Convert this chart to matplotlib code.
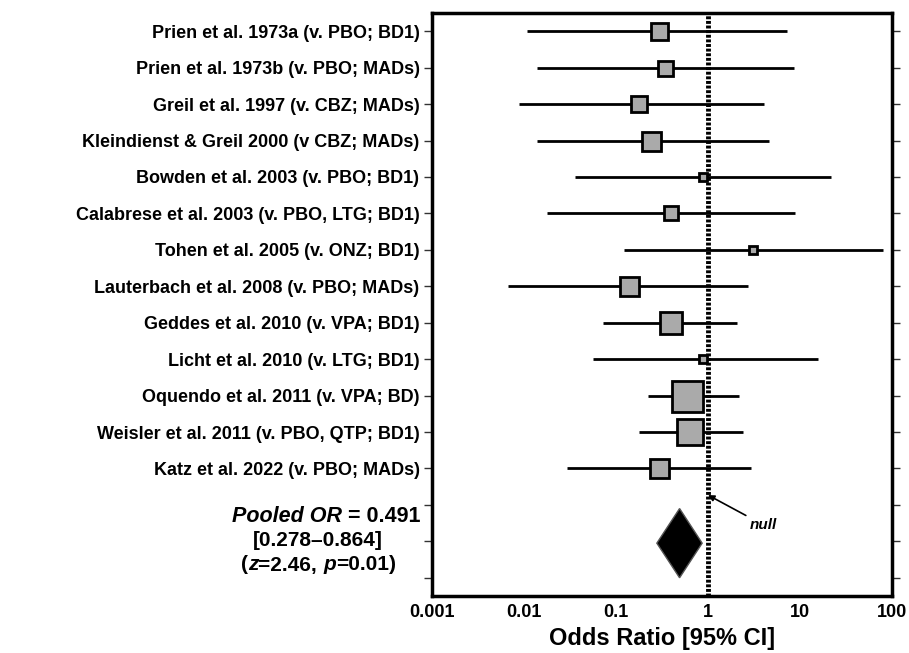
import numpy as np
import matplotlib.pyplot as plt
from matplotlib.patches import Polygon

plt.rcParams['font.family'] = ['Liberation Sans', 'DejaVu Sans']
plt.rcParams['font.weight'] = 'bold'

# study data (odds ratio, 95% CI, marker size in px)
studies = ["Prien et al. 1973a (v. PBO; BD1)",
           "Prien et al. 1973b (v. PBO; MADs)",
           "Greil et al. 1997 (v. CBZ; MADs)",
           "Kleindienst & Greil 2000 (v CBZ; MADs)",
           "Bowden et al. 2003 (v. PBO; BD1)",
           "Calabrese et al. 2003 (v. PBO, LTG; BD1)",
           "Tohen et al. 2005 (v. ONZ; BD1)",
           "Lauterbach et al. 2008 (v. PBO; MADs)",
           "Geddes et al. 2010 (v. VPA; BD1)",
           "Licht et al. 2010 (v. LTG; BD1)",
           "Oquendo et al. 2011 (v. VPA; BD)",
           "Weisler et al. 2011 (v. PBO, QTP; BD1)",
           "Katz et al. 2022 (v. PBO; MADs)"]
odds = [0.29, 0.34, 0.18, 0.24, 0.88, 0.40, 3.08, 0.138, 0.40, 0.88, 0.59, 0.64, 0.29]
ci_low = [0.0108, 0.0138, 0.0088, 0.0138, 0.036, 0.018, 0.122, 0.0067, 0.072, 0.056, 0.223, 0.178, 0.029]
ci_high = [7.2, 8.6, 4.06, 4.6, 21.7, 8.8, 79.8, 2.72, 2.07, 15.7, 2.17, 2.4, 2.93]
weights = [17, 15, 16, 19, 8, 14, 8, 19, 22, 8, 31, 27, 19]

pooled_or = 0.491
pooled_low = 0.278
pooled_high = 0.864

fig = plt.figure(figsize=(9.09, 6.53), dpi=100)
ax = fig.add_axes([432/909, 57/653, 460/909, 583/653])
ax.set_xscale('log')
ax.set_xlim(0.001, 100)
ax.set_ylim(15.5, -0.5)

ypos = np.arange(len(studies))
ax.hlines(ypos, ci_low, ci_high, color='black', lw=2, zorder=2)
for y, o, w in zip(ypos, odds, weights):
    ax.plot(o, y, marker='s', ms=w * 0.72, mfc='#aaaaaa', mec='black', mew=2, zorder=4)

# pooled diamond
py = 14.05
ax.add_patch(Polygon([[pooled_low, py], [pooled_or, py - 0.95], [pooled_high, py],
                      [pooled_or, py + 0.95]], closed=True, fc='black', ec='#555555',
                     lw=1, zorder=4))

# null line
ax.axvline(1, color='black', lw=3.5, ls=(0, (0.6, 0.35)), zorder=3)
ax.annotate('null', xy=(1.0, 12.73), xytext=(2.85, 13.55), fontsize=11, style='italic',
            fontweight='bold', ha='left', va='center',
            arrowprops=dict(arrowstyle='-|>', color='black', lw=1.2, mutation_scale=9,
                            shrinkB=0, shrinkA=1))

ax.set_yticks(np.arange(16))
ax.set_yticklabels(studies + ['', '', ''], fontsize=13, fontweight='bold')
ax.tick_params(axis='y', which='both', left=True, right=True, direction='out',
               length=6, width=1, color='#333333', pad=3)
ax.set_xticks([0.001, 0.01, 0.1, 1, 10, 100])
ax.set_xticklabels(['0.001', '0.01', '0.1', '1', '10', '100'], fontsize=13,
                   fontweight='bold')
ax.tick_params(axis='x', which='both', length=0, pad=6)
ax.minorticks_off()
ax.set_xlabel('Odds Ratio [95% CI]', fontsize=17, fontweight='bold', labelpad=4)
for s in ax.spines.values():
    s.set_linewidth(2.5)

# pooled estimate text
t2 = fig.text(420/909, 1 - 517/653, ' = 0.491', fontsize=15.5, fontweight='bold',
              ha='right', va='center')
ax.annotate('Pooled OR', xy=(0, 0), xycoords=t2, ha='right', va='bottom',
            fontsize=15.5, fontweight='bold', style='italic', annotation_clip=False)
fig.text(318/909, 1 - 541/653, '[0.278\u20130.864]', fontsize=15, fontweight='bold',
         ha='center', va='center')

parts = [('(', 'normal'), ('z', 'italic'), ('=2.46, ', 'normal'), ('p', 'italic'),
         ('=0.01)', 'normal')]
prev = fig.text(241/909, 1 - 565/653, parts[0][0], fontsize=15, fontweight='bold',
                ha='left', va='center')
for txt, st in parts[1:]:
    prev = ax.annotate(txt, xy=(1, 0), xycoords=prev, ha='left', va='bottom',
                       fontsize=15, fontweight='bold', style=st, annotation_clip=False)

fig.savefig('out.png', dpi=100)
